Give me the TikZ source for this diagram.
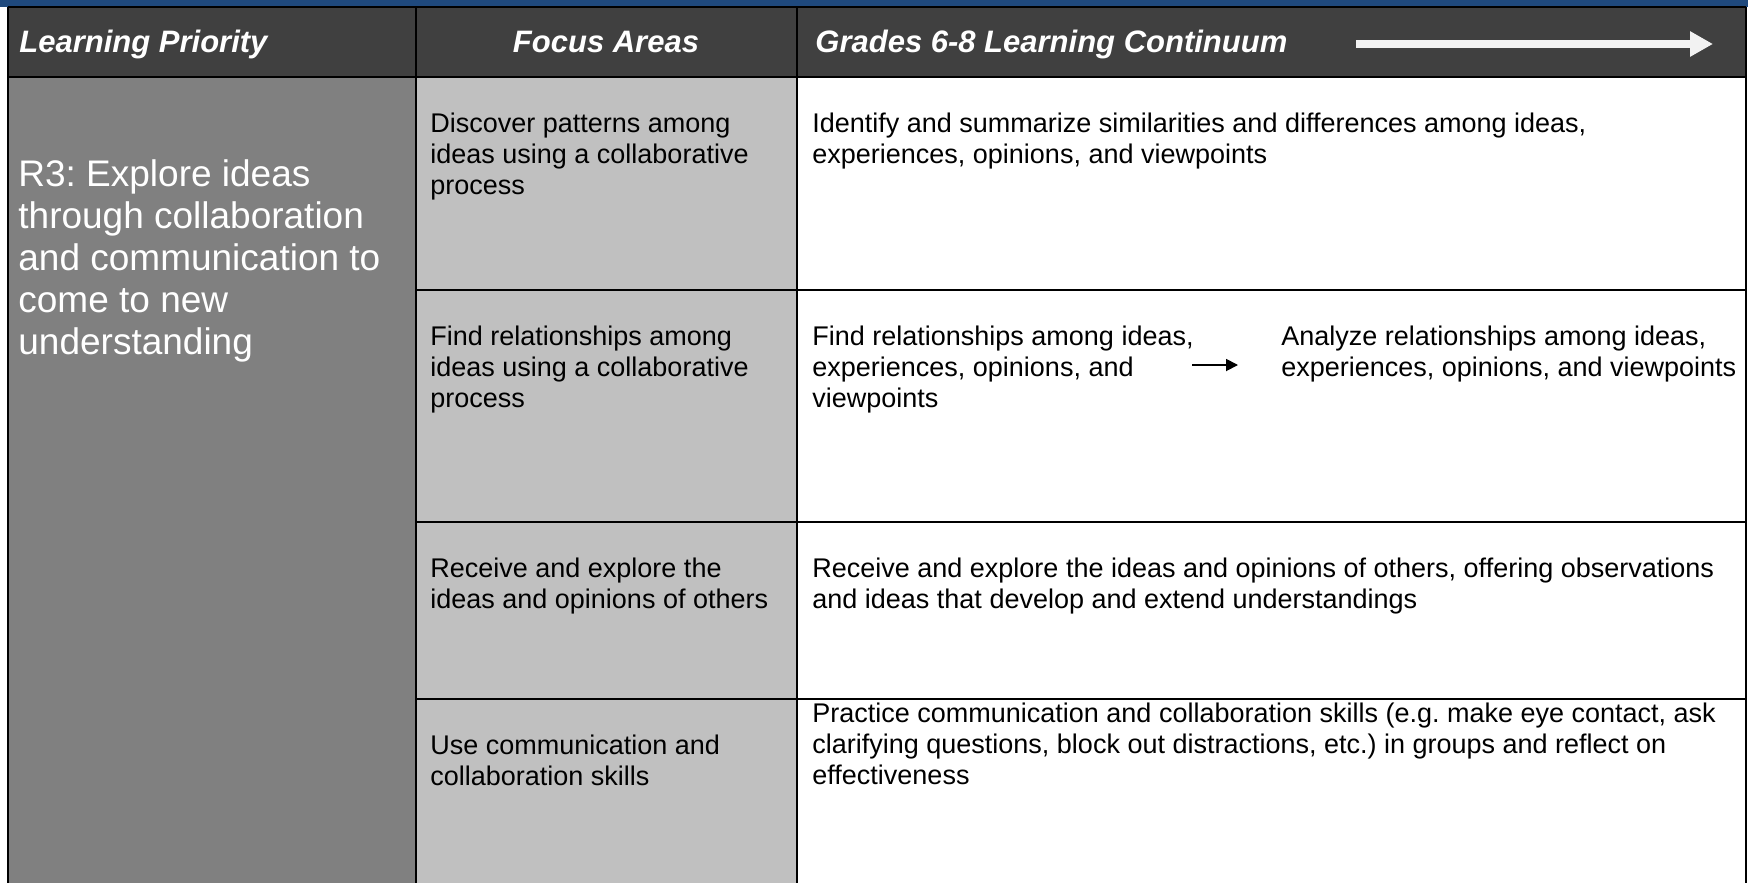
\documentclass[tikz,border=0pt]{standalone}
\usepackage{fontspec}
\setmainfont{Liberation Sans}
\usetikzlibrary{arrows.meta}
\definecolor{bandblue}{HTML}{1F497D}
\definecolor{headgray}{HTML}{404040}
\definecolor{leftgray}{HTML}{808080}
\definecolor{focusgray}{HTML}{C0C0C0}
\definecolor{arrowwhite}{HTML}{F2F2F2}
\newcommand\capstrut{\rule{0pt}{0.75em}}
\frenchspacing
\begin{document}
\begin{tikzpicture}[x=0.5pt,y=-0.5pt,
  rule/.style={line width=1pt,black},
  headtext/.style={font=\fontsize{15.5}{18}\selectfont\bfseries\itshape,text=white,inner sep=0pt},
  lefttext/.style={font=\fontsize{18.5}{21}\selectfont,text=white,anchor=north west,inner sep=0pt,align=left},
  bodytext/.style={font=\fontsize{13.5}{15.5}\selectfont,text=black,anchor=north west,inner sep=0pt,align=left}]
\useasboundingbox (0,0) rectangle (1748,883);
% backgrounds
\fill[white] (0,0) rectangle (1748,883);
\fill[bandblue] (0,0) rectangle (1748,7);
\fill[headgray] (8,7) rectangle (1746,77);
\fill[leftgray] (8,77) rectangle (416,883);
\fill[focusgray] (416,77) rectangle (797,883);
% rules
\draw[rule] (8,7) -- (1746,7);
\draw[rule] (8,77) -- (1746,77);
\draw[rule] (8,7) -- (8,883);
\draw[rule] (416,7) -- (416,883);
\draw[rule] (797,7) -- (797,883);
\draw[rule] (1746,7) -- (1746,883);
\draw[rule] (416,290) -- (1746,290);
\draw[rule] (416,522) -- (1746,522);
\draw[rule] (416,699) -- (1746,699);
% header
\node[headtext,anchor=base west] (hlp) at (19,53) {Learning Priority};
\node[headtext,anchor=base] (hfa) at (606,53) {Focus Areas};
\node[headtext,anchor=base west] (hgc) at (815,53) {Grades 6-8 Learning Continuum};
\coordinate (hstart) at (1356,44);
\coordinate (hend) at (1713,44);
\draw[arrowwhite,line width=4pt,-{Triangle[length=11.5pt,width=12pt]}] (hstart) -- (hend);
% left column
\node[lefttext] (lp) at (18,158) {\capstrut R3: Explore ideas\\through collaboration\\and communication to\\come to new\\understanding};
% focus areas
\node[bodytext] (fa1) at (430,112) {\capstrut Discover patterns among\\ideas using a collaborative\\process};
\node[bodytext] (fa2) at (430,325) {\capstrut Find relationships among\\ideas using a collaborative\\process};
\node[bodytext] (fa3) at (430,557) {\capstrut Receive and explore the\\ideas and opinions of others};
\node[bodytext] (fa4) at (430,734) {\capstrut Use communication and\\collaboration skills};
% continuum
\node[bodytext] (lc1) at (812,112) {\capstrut Identify and summarize similarities and differences among ideas,\\experiences, opinions, and viewpoints};
\node[bodytext] (lc2a) at (812,325) {\capstrut Find relationships among ideas,\\experiences, opinions, and\\viewpoints};
\node[bodytext] (lc2b) at (1281,325) {\capstrut Analyze relationships among ideas,\\experiences, opinions, and viewpoints};
\node[bodytext] (lc3) at (812,557) {\capstrut Receive and explore the ideas and opinions of others, offering observations\\and ideas that develop and extend understandings};
\node[bodytext] (lc4) at (812,702) {\capstrut Practice communication and collaboration skills (e.g. make eye contact, ask\\clarifying questions, block out distractions, etc.) in groups and reflect on\\effectiveness};
\coordinate (ma) at (1192,365);
\coordinate (mb) at (1238,365);
\draw[black,line width=0.9pt,-{Triangle[length=6pt,width=6pt]}] (ma) -- (mb);
\end{tikzpicture}
\end{document}
